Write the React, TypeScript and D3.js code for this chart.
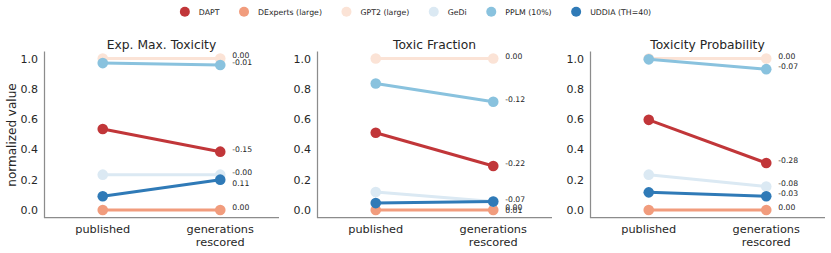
import React, { useEffect, useRef } from 'react';
import * as d3 from 'd3';

// data
const metrics = ['Exp. Max. Toxicity', 'Toxic Fraction', 'Toxicity Probability'];
const categories = ['published', 'generations rescored'];
const categoryLines = [['published'], ['generations', 'rescored']];
const models = ['DAPT', 'DExperts (large)', 'GPT2 (large)', 'GeDi', 'PPLM (10%)', 'UDDIA (TH=40)'];
const palette = ['#c13639', '#f19c7d', '#fbe3d6', '#dbe9f3', '#89c2de', '#2f7ab7'];

// one row per metric, one value per model
const publishedValues = [
  [0.535, 0, 1, 0.233, 0.97, 0.09],
  [0.51, 0, 1, 0.118, 0.835, 0.045],
  [0.595, 0, 1, 0.233, 0.995, 0.116],
];
const rescoredValues = [
  [0.385, 0, 1, 0.233, 0.958, 0.2],
  [0.29, 0, 1, 0.055, 0.715, 0.055],
  [0.31, 0, 1, 0.155, 0.93, 0.09],
];
const deltaLabels = [
  ['-0.15', '0.00', '0.00', '-0.00', '-0.01', '0.11'],
  ['-0.22', '0.00', '0.00', '-0.07', '-0.12', '0.01'],
  ['-0.28', '0.00', '0.00', '-0.08', '-0.07', '-0.03'],
];
const yTicks = [0, 0.2, 0.4, 0.6, 0.8, 1.0];

const W = 831;
const H = 253;
const FONT = 'DejaVu Sans, sans-serif';
const TEXT = '#262626';
const SPINE = '#8c8c8c';

const App = () => {
  const svgRef = useRef<SVGSVGElement>(null);

  useEffect(() => {
    document.body.style.margin = '0';
    const svg = d3.select(svgRef.current);
    svg.selectAll('*').remove();

    const yScale = d3.scaleLinear().domain([-0.05, 1.05]).range([217.5, 51]);
    const panelWidth = 235;

    metrics.forEach((metric, p) => {
      const left = 44 + p * 273;
      const xScale = d3.scalePoint<string>()
        .domain(categories)
        .range([left, left + panelWidth])
        .padding(0.5);
      const g = svg.append('g');

      // y axis
      const yAxis = d3.axisLeft(yScale)
        .tickValues(yTicks)
        .tickSize(0)
        .tickSizeOuter(0)
        .tickPadding(6)
        .tickFormat(d3.format('.1f'));
      const ya = g.append('g').attr('transform', `translate(${left},0)`).call(yAxis);
      ya.select('.domain').attr('stroke', SPINE).attr('stroke-width', 1.25);
      ya.selectAll('text').attr('font-family', FONT).attr('font-size', 11).attr('fill', TEXT);

      // bottom spine
      g.append('line')
        .attr('x1', left).attr('x2', left + panelWidth)
        .attr('y1', yScale.range()[0]).attr('y2', yScale.range()[0])
        .attr('stroke', SPINE).attr('stroke-width', 1.25);

      // x tick labels
      categories.forEach((c, i) => {
        const t = g.append('text')
          .attr('x', xScale(c)!)
          .attr('y', 233)
          .attr('text-anchor', 'middle')
          .attr('font-family', FONT).attr('font-size', 11.3).attr('fill', TEXT);
        categoryLines[i].forEach((line, j) => {
          t.append('tspan').attr('x', xScale(c)!).attr('dy', j === 0 ? 0 : 12.7).text(line);
        });
      });

      // title
      g.append('text')
        .attr('x', left + panelWidth / 2)
        .attr('y', 48.5)
        .attr('text-anchor', 'middle')
        .attr('font-family', FONT).attr('font-size', 12.3).attr('fill', TEXT)
        .text(metric);

      // lines and points
      models.forEach((m, k) => {
        const pts: [number, number][] = [
          [xScale(categories[0])!, yScale(publishedValues[p][k])],
          [xScale(categories[1])!, yScale(rescoredValues[p][k])],
        ];
        g.append('path')
          .attr('d', d3.line()(pts))
          .attr('stroke', palette[k]).attr('stroke-width', 3).attr('fill', 'none');
        g.selectAll(null).data(pts).enter().append('circle')
          .attr('cx', d => d[0]).attr('cy', d => d[1]).attr('r', 5.3)
          .attr('fill', palette[k]);
      });

      // delta annotations, nudged apart where they collide
      const order = d3.range(models.length)
        .sort((a, b) => yScale(rescoredValues[p][a]) - yScale(rescoredValues[p][b]));
      const baseY: number[] = [];
      order.forEach((k, i) => {
        let y = yScale(rescoredValues[p][k]);
        if (i > 0) {
          const prevK = order[i - 1];
          const prevRaw = yScale(rescoredValues[p][prevK]);
          const gap = y - prevRaw;
          if (gap < 6) {
            y = baseY[prevK] + 11;
          } else if (gap < 7.5) {
            baseY[prevK] -= (7.5 - gap) / 2;
            y += (7.5 - gap) / 2;
          }
        }
        baseY[k] = y;
      });
      models.forEach((m, k) => {
        g.append('text')
          .attr('x', xScale(categories[1])! + 12)
          .attr('y', baseY[k])
          .attr('font-family', FONT).attr('font-size', 7.7).attr('fill', TEXT)
          .text(deltaLabels[p][k]);
      });
    });

    // y label
    svg.append('text')
      .attr('transform', `translate(15.5,135) rotate(-90)`)
      .attr('text-anchor', 'middle')
      .attr('font-family', FONT).attr('font-size', 12).attr('fill', TEXT)
      .text('normalized value');

    // legend, centred across the top
    const legend = svg.append('g');
    let cursor = 0;
    models.forEach((m, k) => {
      const item = legend.append('g').attr('transform', `translate(${cursor},0)`);
      item.append('circle').attr('cx', 0).attr('cy', 11.7).attr('r', 5).attr('fill', palette[k]);
      const t = item.append('text')
        .attr('x', 14).attr('y', 14.5)
        .attr('font-family', FONT).attr('font-size', 7.8).attr('fill', TEXT)
        .text(m);
      const w = (t.node() as SVGTextElement).getComputedTextLength();
      cursor += 14 + w + 24.5;
    });
    const total = cursor - 24.5 + 5;
    legend.attr('transform', `translate(${W / 2 - total / 2 + 5},0)`);
  }, []);

  return <svg ref={svgRef} width={W} height={H} style={{ display: 'block' }} />;
};

export default App;
